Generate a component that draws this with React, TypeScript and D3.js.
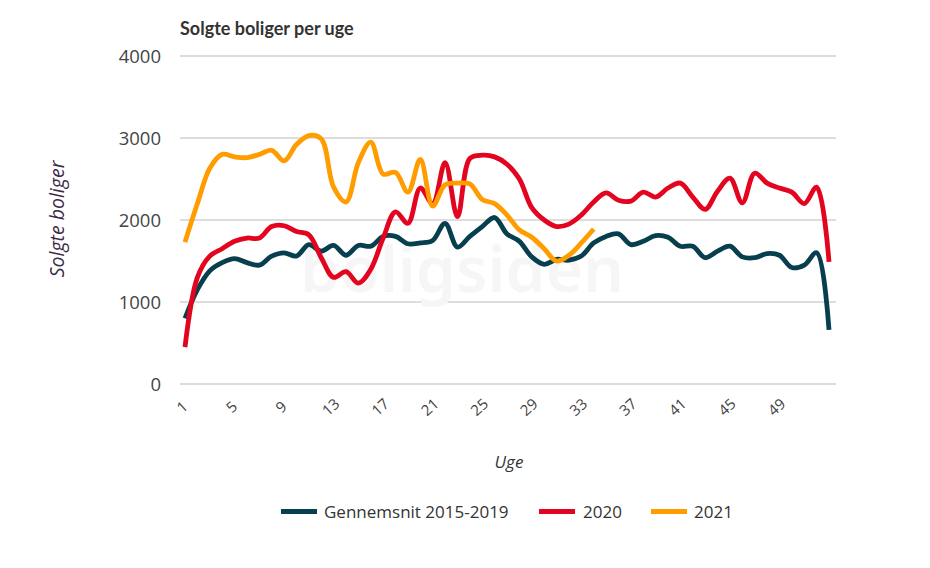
import React from "react";
import * as d3 from "d3";

const weeks: number[] = Array.from({ length: 53 }, (_, i) => i + 1);

const avg2015_2019: number[] = [
  800, 1150, 1380, 1480, 1530, 1480, 1450, 1560, 1600, 1560,
  1700, 1620, 1690, 1570, 1690, 1680, 1800, 1800, 1710, 1720,
  1750, 1960, 1670, 1800, 1920, 2030, 1830, 1740, 1550, 1460,
  1520, 1510, 1560, 1720, 1800, 1830, 1700, 1740, 1810, 1790,
  1680, 1680, 1540, 1620, 1680, 1550, 1540, 1590, 1570, 1420,
  1450, 1600, 660,
];

const y2020: number[] = [
  450, 1300, 1560, 1650, 1740, 1780, 1780, 1920, 1930, 1860,
  1820, 1540, 1300, 1370, 1230, 1400, 1780, 2100, 1960, 2390,
  2200, 2700, 2040, 2750, 2790, 2770, 2680, 2500, 2150, 2000,
  1920, 1950, 2060, 2220, 2330, 2240, 2230, 2340, 2280, 2390,
  2450, 2280, 2130, 2350, 2510, 2210, 2570, 2450, 2390, 2340,
  2200, 2400, 1490,
];

const y2021: number[] = [
  1730, 2200, 2630, 2800, 2770, 2760, 2800, 2850, 2720, 2920,
  3030, 2990, 2400, 2220, 2700, 2950, 2560, 2580, 2340, 2740,
  2170, 2430, 2450, 2440, 2250, 2200, 2060, 1880, 1790, 1650,
  1500, 1570, 1720, 1890,
];

const yTicks: number[] = [0, 1000, 2000, 3000, 4000];
const xTicks: number[] = [1, 5, 9, 13, 17, 21, 25, 29, 33, 37, 41, 45, 49];

const seriesNames: string[] = ["Gennemsnit 2015-2019", "2020", "2021"];
const seriesColors: string[] = ["#073f4f", "#e3051f", "#ff9d00"];

export default function App() {
  const width = 930;
  const height = 568;
  const x = d3.scaleLinear().domain([1, 53]).range([185, 829]);
  const y = d3.scaleLinear().domain([0, 4000]).range([384, 56]);

  const line = d3
    .line<number>()
    .x((_, i) => x(weeks[i]))
    .y((d) => y(d))
    .curve(d3.curveCatmullRom.alpha(0.5));

  const data = [avg2015_2019, y2020, y2021];

  const legendItems = [
    { sx: 281, tx: 324 },
    { sx: 539, tx: 583 },
    { sx: 651, tx: 694 },
  ];

  const font = "'Open Sans', sans-serif";

  return (
    <svg
      width={width}
      height={height}
      style={{ position: "absolute", left: 0, top: 0, background: "#fff" }}
    >
      <text
        x={180}
        y={35}
        fontFamily="Lato, 'Open Sans', sans-serif"
        fontWeight={700}
        fontSize={18}
        fill="#333"
      >
        Solgte boliger per uge
      </text>

      {yTicks.map((t) => (
        <g key={t}>
          <line x1={180} x2={836} y1={y(t)} y2={y(t)} stroke="#d2d2d2" strokeWidth={1.3} />
          <text
            x={161}
            y={y(t) + 7}
            textAnchor="end"
            fontFamily={font}
            fontSize={18.5}
            fill="#444"
          >
            {t}
          </text>
        </g>
      ))}

      <text
        x={462}
        y={292}
        textAnchor="middle"
        fontFamily="'Noto Sans', sans-serif"
        fontWeight={600}
        fontSize={64}
        fill="#f6f6f6"
      >
        boligsiden
      </text>

      {xTicks.map((t) => (
        <text
          key={t}
          transform={`translate(${x(t) - 2},${408}) rotate(-42)`}
          textAnchor="middle"
          dominantBaseline="middle"
          fontFamily={font}
          fontSize={15}
          fill="#444"
        >
          {t}
        </text>
      ))}

      {data.map((d, i) => (
        <path
          key={i}
          d={line(d) || ""}
          fill="none"
          stroke={seriesColors[i]}
          strokeWidth={4.8}
          strokeLinejoin="round"
        />
      ))}

      <text
        transform="translate(64,219) rotate(-90)"
        textAnchor="middle"
        fontFamily={font}
        fontStyle="italic"
        fontSize={19.5}
        fill="#3c2b48"
      >
        Solgte boliger
      </text>

      <text
        x={509}
        y={468}
        textAnchor="middle"
        fontFamily={font}
        fontStyle="italic"
        fontSize={17}
        fill="#333"
      >
        Uge
      </text>

      {seriesNames.map((n, i) => (
        <g key={n}>
          <rect x={legendItems[i].sx} y={509} width={36} height={5} fill={seriesColors[i]} />
          <text
            x={legendItems[i].tx}
            y={518}
            fontFamily={font}
            fontSize={17}
            fill="#333"
          >
            {n}
          </text>
        </g>
      ))}
    </svg>
  );
}
